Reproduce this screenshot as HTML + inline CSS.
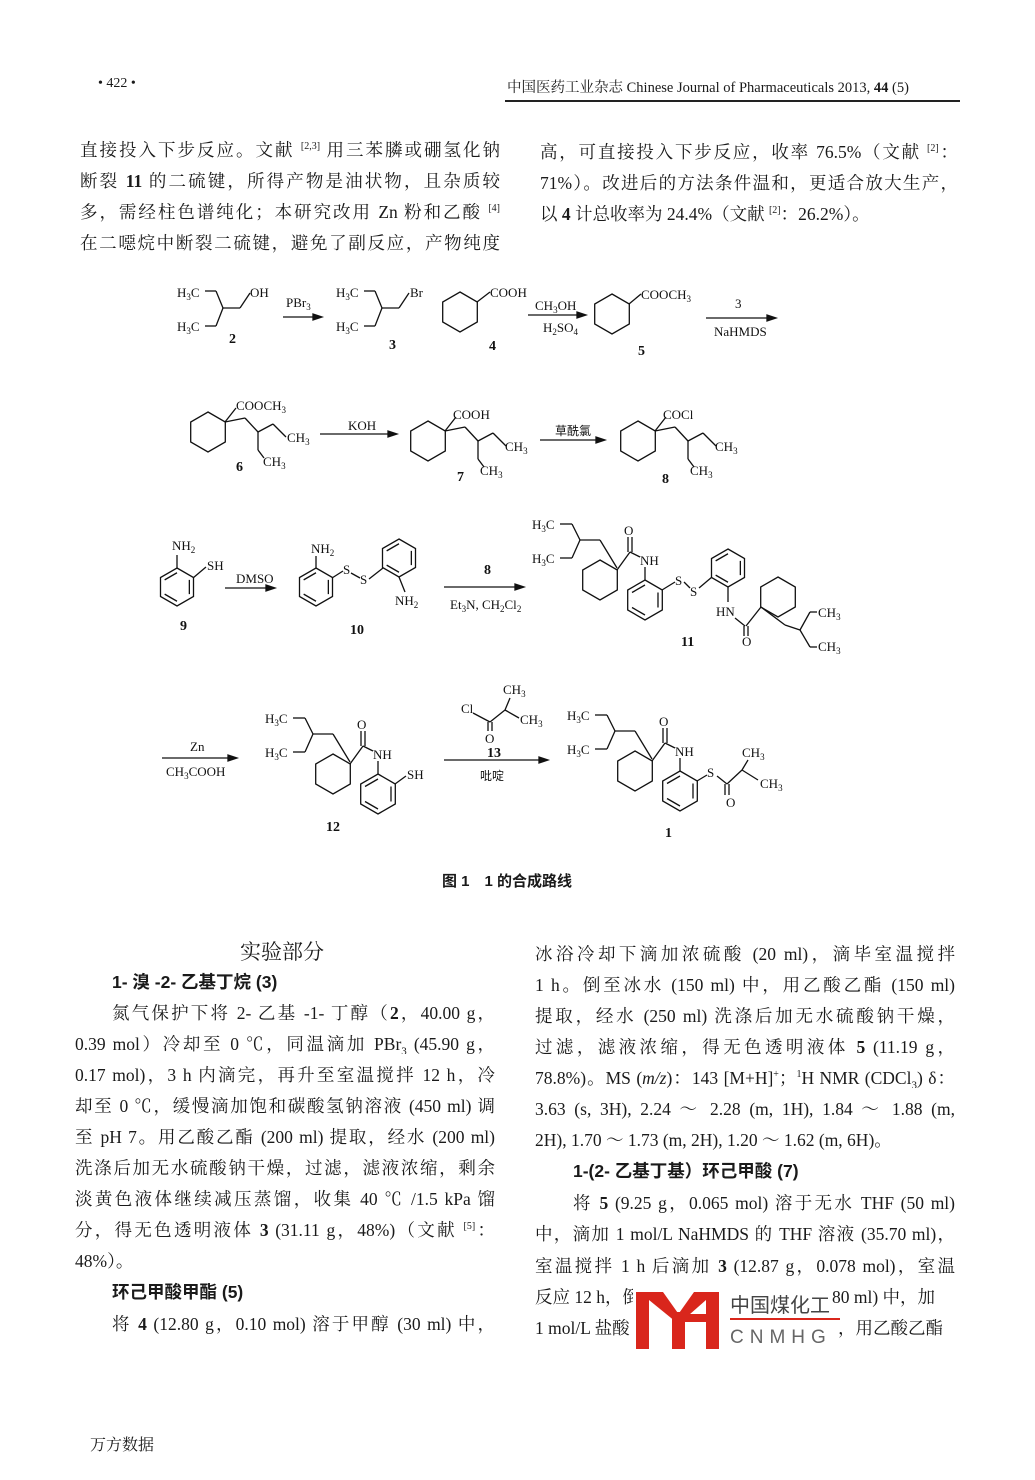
<!DOCTYPE html>
<html><head><meta charset="utf-8">
<style>
body{margin:0;background:#fff;}
#pg{position:relative;width:1035px;height:1480px;overflow:hidden;background:#fff;font-family:"Liberation Serif","Noto Serif CJK SC","Noto Sans CJK SC",serif;color:#1a1a1a;}
.l{position:absolute;font-size:17.5px;line-height:20px;white-space:nowrap;}
.j{text-align:justify;text-align-last:justify;white-space:normal;height:20px;overflow:hidden;}
.b{font-weight:bold;font-family:"Liberation Sans","Noto Sans CJK SC",sans-serif;}
sup{font-size:10px;line-height:0;}
sub{font-size:11px;line-height:0;}
#sch text{font-family:"Liberation Serif",serif;font-size:13px;fill:#111;}
#sch .n{font-weight:bold;font-size:14px;}
</style></head><body><div id="pg">
<div class="l" style="left:98px;top:74px;font-size:14px;">• 422 •</div>
<div class="l" style="left:507px;top:78px;font-size:14.5px;">中国医药工业杂志 Chinese Journal of Pharmaceuticals 2013, <b>44</b> (5)</div>
<div style="position:absolute;left:505px;top:100px;width:455px;height:2px;background:#222;"></div>

<div class="l j" style="left:80px;top:140px;width:420px;">直接投入下步反应。文献 <sup>[2,3]</sup> 用三苯膦或硼氢化钠</div>
<div class="l j" style="left:80px;top:171px;width:420px;">断裂 <b>11</b> 的二硫键，所得产物是油状物，且杂质较</div>
<div class="l j" style="left:80px;top:202px;width:420px;">多，需经柱色谱纯化；本研究改用 Zn 粉和乙酸 <sup>[4]</sup></div>
<div class="l j" style="left:80px;top:233px;width:420px;">在二噁烷中断裂二硫键，避免了副反应，产物纯度</div>
<div class="l j" style="left:540px;top:142px;width:418px;">高，可直接投入下步反应，收率 76.5%（文献 <sup>[2]</sup>：</div>
<div class="l j" style="left:540px;top:173px;width:418px;">71%）。改进后的方法条件温和，更适合放大生产，</div>
<div class="l" style="left:540px;top:204px;">以 <b>4</b> 计总收率为 24.4%（文献 <sup>[2]</sup>：26.2%）。</div>

<svg id="sch" width="1035" height="900" style="position:absolute;left:0;top:0" stroke="#111" stroke-width="1.3" fill="none">
<g stroke="none">
<text x="177" y="297">H<tspan font-size="9" dy="3">3</tspan><tspan dy="-3">C</tspan></text>
<text x="250" y="297">OH</text>
<text x="177" y="331">H<tspan font-size="9" dy="3">3</tspan><tspan dy="-3">C</tspan></text>
<text class="n" x="229" y="343">2</text>
<text x="286" y="307">PBr<tspan font-size="9" dy="3">3</tspan></text>
<text x="336" y="297">H<tspan font-size="9" dy="3">3</tspan><tspan dy="-3">C</tspan></text>
<text x="410" y="297">Br</text>
<text x="336" y="331">H<tspan font-size="9" dy="3">3</tspan><tspan dy="-3">C</tspan></text>
<text class="n" x="389" y="349">3</text>
<text x="490" y="297">COOH</text>
<text class="n" x="489" y="350">4</text>
<text x="535" y="310">CH<tspan font-size="9" dy="3">3</tspan><tspan dy="-3">OH</tspan></text>
<text x="543" y="332">H<tspan font-size="9" dy="3">2</tspan><tspan dy="-3">SO</tspan><tspan font-size="9" dy="3">4</tspan></text>
<text x="641" y="299">COOCH<tspan font-size="9" dy="3">3</tspan></text>
<text class="n" x="638" y="355">5</text>
<text x="735" y="308">3</text>
<text x="714" y="336">NaHMDS</text>

<text x="236" y="410">COOCH<tspan font-size="9" dy="3">3</tspan></text>
<text x="287" y="442">CH<tspan font-size="9" dy="3">3</tspan></text>
<text x="263" y="466">CH<tspan font-size="9" dy="3">3</tspan></text>
<text class="n" x="236" y="471">6</text>
<text x="348" y="430">KOH</text>
<text x="453" y="419">COOH</text>
<text x="505" y="451">CH<tspan font-size="9" dy="3">3</tspan></text>
<text x="480" y="475">CH<tspan font-size="9" dy="3">3</tspan></text>
<text class="n" x="457" y="481">7</text>
<text x="555" y="435" style="font-family:'Noto Sans CJK SC',sans-serif;font-size:12px">草酰氯</text>
<text x="663" y="419">COCl</text>
<text x="715" y="451">CH<tspan font-size="9" dy="3">3</tspan></text>
<text x="690" y="475">CH<tspan font-size="9" dy="3">3</tspan></text>
<text class="n" x="662" y="483">8</text>

<text x="172" y="550">NH<tspan font-size="9" dy="3">2</tspan></text>
<text x="207" y="570">SH</text>
<text class="n" x="180" y="630">9</text>
<text x="236" y="583">DMSO</text>
<text x="311" y="553">NH<tspan font-size="9" dy="3">2</tspan></text>
<text x="343" y="574">S</text>
<text x="360" y="584">S</text>
<text x="395" y="605">NH<tspan font-size="9" dy="3">2</tspan></text>
<text class="n" x="350" y="634">10</text>
<text class="n" x="484" y="574">8</text>
<text x="450" y="609">Et<tspan font-size="9" dy="3">3</tspan><tspan dy="-3">N, CH</tspan><tspan font-size="9" dy="3">2</tspan><tspan dy="-3">Cl</tspan><tspan font-size="9" dy="3">2</tspan></text>
<text x="532" y="529">H<tspan font-size="9" dy="3">3</tspan><tspan dy="-3">C</tspan></text>
<text x="532" y="563">H<tspan font-size="9" dy="3">3</tspan><tspan dy="-3">C</tspan></text>
<text x="624" y="535">O</text>
<text x="640" y="565">NH</text>
<text x="675" y="585">S</text>
<text x="690" y="596">S</text>
<text x="716" y="616">HN</text>
<text x="742" y="646">O</text>
<text x="818" y="617">CH<tspan font-size="9" dy="3">3</tspan></text>
<text x="818" y="651">CH<tspan font-size="9" dy="3">3</tspan></text>
<text class="n" x="681" y="646">11</text>

<text x="190" y="751">Zn</text>
<text x="166" y="776">CH<tspan font-size="9" dy="3">3</tspan><tspan dy="-3">COOH</tspan></text>
<text x="265" y="723">H<tspan font-size="9" dy="3">3</tspan><tspan dy="-3">C</tspan></text>
<text x="265" y="757">H<tspan font-size="9" dy="3">3</tspan><tspan dy="-3">C</tspan></text>
<text x="357" y="729">O</text>
<text x="373" y="759">NH</text>
<text x="407" y="779">SH</text>
<text class="n" x="326" y="831">12</text>
<text x="503" y="694">CH<tspan font-size="9" dy="3">3</tspan></text>
<text x="461" y="713">Cl</text>
<text x="520" y="724">CH<tspan font-size="9" dy="3">3</tspan></text>
<text x="485" y="743">O</text>
<text class="n" x="487" y="757">13</text>
<text x="480" y="780" style="font-family:'Noto Sans CJK SC',sans-serif;font-size:12px">吡啶</text>
<text x="567" y="720">H<tspan font-size="9" dy="3">3</tspan><tspan dy="-3">C</tspan></text>
<text x="567" y="754">H<tspan font-size="9" dy="3">3</tspan><tspan dy="-3">C</tspan></text>
<text x="659" y="726">O</text>
<text x="675" y="756">NH</text>
<text x="707" y="777">S</text>
<text x="726" y="807">O</text>
<text x="742" y="757">CH<tspan font-size="9" dy="3">3</tspan></text>
<text x="760" y="788">CH<tspan font-size="9" dy="3">3</tspan></text>
<text class="n" x="665" y="837">1</text>
</g>
<g id="bonds"></g>
</svg>
<div class="l b" style="left:442px;top:872px;font-size:15px;">图 1　1 的合成路线</div>

<div class="l" style="left:240px;top:940px;font-size:21px;line-height:24px;">实验部分</div>
<div class="l b" style="left:112px;top:972px;">1- 溴 -2- 乙基丁烷 (3)</div>
<div class="l j" style="left:112px;top:1003px;width:383px;">氮气保护下将 2- 乙基 -1- 丁醇（<b>2</b>，40.00 g，</div>
<div class="l j" style="left:75px;top:1034px;width:420px;">0.39 mol）冷却至 0 ℃，同温滴加 PBr<sub>3</sub> (45.90 g，</div>
<div class="l j" style="left:75px;top:1065px;width:420px;">0.17 mol)，3 h 内滴完，再升至室温搅拌 12 h，冷</div>
<div class="l j" style="left:75px;top:1096px;width:420px;">却至 0 ℃，缓慢滴加饱和碳酸氢钠溶液 (450 ml) 调</div>
<div class="l j" style="left:75px;top:1127px;width:420px;">至 pH 7。用乙酸乙酯 (200 ml) 提取，经水 (200 ml)</div>
<div class="l j" style="left:75px;top:1158px;width:420px;">洗涤后加无水硫酸钠干燥，过滤，滤液浓缩，剩余</div>
<div class="l j" style="left:75px;top:1189px;width:420px;">淡黄色液体继续减压蒸馏，收集 40 ℃ /1.5 kPa 馏</div>
<div class="l j" style="left:75px;top:1220px;width:420px;">分，得无色透明液体 <b>3</b> (31.11 g，48%)（文献 <sup>[5]</sup>：</div>
<div class="l" style="left:75px;top:1251px;">48%）。</div>
<div class="l b" style="left:112px;top:1282px;">环己甲酸甲酯 (5)</div>
<div class="l j" style="left:112px;top:1314px;width:383px;">将 <b>4</b> (12.80 g，0.10 mol) 溶于甲醇 (30 ml) 中，</div>

<div class="l j" style="left:535px;top:944px;width:420px;">冰浴冷却下滴加浓硫酸 (20 ml)，滴毕室温搅拌</div>
<div class="l j" style="left:535px;top:975px;width:420px;">1 h。倒至冰水 (150 ml) 中，用乙酸乙酯 (150 ml)</div>
<div class="l j" style="left:535px;top:1006px;width:420px;">提取，经水 (250 ml) 洗涤后加无水硫酸钠干燥，</div>
<div class="l j" style="left:535px;top:1037px;width:420px;">过滤，滤液浓缩，得无色透明液体 <b>5</b> (11.19 g，</div>
<div class="l j" style="left:535px;top:1068px;width:420px;">78.8%)。MS (<i>m/z</i>)：143 [M+H]<sup>+</sup>；<sup>1</sup>H NMR (CDCl<sub>3</sub>) δ：</div>
<div class="l j" style="left:535px;top:1099px;width:420px;">3.63 (s, 3H), 2.24 ～ 2.28 (m, 1H), 1.84 ～ 1.88 (m,</div>
<div class="l" style="left:535px;top:1130px;">2H), 1.70 ～ 1.73 (m, 2H), 1.20 ～ 1.62 (m, 6H)。</div>
<div class="l b" style="left:573px;top:1161px;">1-(2- 乙基丁基）环己甲酸 (7)</div>
<div class="l j" style="left:573px;top:1193px;width:382px;">将 <b>5</b> (9.25 g，0.065 mol) 溶于无水 THF (50 ml)</div>
<div class="l j" style="left:535px;top:1224px;width:420px;">中，滴加 1 mol/L NaHMDS 的 THF 溶液 (35.70 ml)，</div>
<div class="l j" style="left:535px;top:1256px;width:420px;">室温搅拌 1 h 后滴加 <b>3</b> (12.87 g，0.078 mol)，室温</div>
<div class="l" style="left:535px;top:1287px;">反应 12 h，倒至饱和氯化铵溶液 (</div>
<div class="l" style="left:535px;top:1318px;">1 mol/L 盐酸</div>
<div style="position:absolute;left:633px;top:1280px;width:200px;height:70px;background:#fff;"></div>
<div class="l" style="left:832px;top:1287px;">80 ml) 中，加</div>
<div class="l" style="left:838px;top:1318px;">，用乙酸乙酯</div>
<svg width="1035" height="1480" style="position:absolute;left:0;top:0">
<g fill="#d9261c">
<rect x="636" y="1292" width="13" height="57"/>
<rect x="706" y="1292" width="13" height="57"/>
<rect x="672" y="1312" width="13" height="37"/>
<polygon points="649,1292 663,1292 680,1316 676,1322 649,1300"/>
<polygon points="694,1292 706,1292 706,1300 681,1322 677,1316"/>
<rect x="685" y="1314" width="21" height="8"/>
</g>
<rect x="730" y="1318" width="110" height="2" fill="#d9261c"/>
<text x="730" y="1312" style="font-family:'Noto Sans CJK SC',sans-serif;font-size:20px;fill:#444">中国煤化工</text>
<text x="730" y="1343" style="font-family:'Liberation Sans',sans-serif;font-size:19px;fill:#666;letter-spacing:6px">CNMHG</text>
</svg>
<div class="l" style="left:90px;top:1436px;font-size:16px;">万方数据</div>
</div>
<script>
var g=document.getElementById('bonds'),s='';
function L(a,b,c,d){s+='<line x1="'+a+'" y1="'+b+'" x2="'+c+'" y2="'+d+'"/>';}
function P(){var a=arguments;for(var i=0;i+3<a.length;i+=2)L(a[i],a[i+1],a[i+2],a[i+3]);}
function H(cx,cy,r,ar){var p=[];for(var i=0;i<6;i++){var t=(-90+60*i)*Math.PI/180;p.push([cx+r*Math.cos(t),cy+r*Math.sin(t)]);}
s+='<polygon points="'+p.map(function(q){return q[0].toFixed(1)+','+q[1].toFixed(1)}).join(' ')+'"/>';
if(ar){var k=0.75;[[1,2],[3,4],[5,0]].forEach(function(e){var A=p[e[0]],B=p[e[1]];L(cx+(A[0]-cx)*k,cy+(A[1]-cy)*k,cx+(B[0]-cx)*k,cy+(B[1]-cy)*k);});}}
function A(x1,x2,y){L(x1,y,x2-6,y);s+='<polygon fill="#111" points="'+x2+','+y+' '+(x2-9)+','+(y-3)+' '+(x2-9)+','+(y+3)+'"/>';}
P(205,291,216,291,223,308);P(205,326,216,326,223,308);P(223,308,240,308,250,293);
P(364,291,375,291,382,308);P(364,326,375,326,382,308);P(382,308,399,308,409,293);
A(283,322,317);
H(460,312,20);L(477,302,490,292);
A(528,586,315);
H(612,314,20);L(629,304,641,294);
A(706,776,318);
[[0,0],[220,9],[430,9]].forEach(function(o){var x=o[0],y=o[1];H(208+x,432+y,20);
L(225+x,422+y,236+x,408+y);P(225+x,422+y,245+x,418+y,258+x,432+y,273+x,424+y,286+x,437+y);P(258+x,432+y,258+x,450+y,264+x,458+y);});
A(320,397,434);A(540,605,440);
H(177,587,19,1);L(177,568,177,555);L(193,578,206,567);
A(225,275,588);
H(316,587,19,1);L(316,568,316,556);L(332,578,343,571);L(351,573,360,578);L(369,579,383,568);
H(399,558,19,1);L(399,577,405,592);
A(444,524,587);
function F(dx,dy){P(560+dx,524+dy,572+dx,524+dy,580+dx,540+dy);P(560+dx,558+dy,572+dx,558+dy,580+dx,540+dy);
P(580+dx,540+dy,600+dx,540+dy,617+dx,568+dy);H(600+dx,580+dy,20);
L(617+dx,570+dy,630+dx,552+dy);L(628+dx,552+dy,628+dx,537+dy);L(632+dx,552+dy,632+dx,537+dy);L(630+dx,552+dy,640+dx,557+dy);
L(645+dx,567+dy,645+dx,580+dy);H(645+dx,600+dy,20,1);}
F(0,0);
L(662,590,675,582);L(684,582,690,588);L(699,588,712,577);H(728,568,19,1);L(728,587,728,602);
L(735,618,745,626);L(744,626,744,636);L(748,626,748,636);L(746,626,761,607);H(778,597,20);
P(761,607,785,625,800,630,810,612,817,612);P(800,630,810,647,817,647);
F(-267,194);L(395,784,406,776);
A(162,237,758);
P(473,713,490,722,505,710,510,698);P(505,710,519,718);L(488,722,488,731);L(492,722,492,731);
A(444,548,760);
F(35,191);
P(697,781,707,775);P(717,776,727,784,742,770,748,760);L(742,770,758,780);L(725,784,725,795);L(729,784,729,795);
g.innerHTML=s;
</script>
</body></html>
